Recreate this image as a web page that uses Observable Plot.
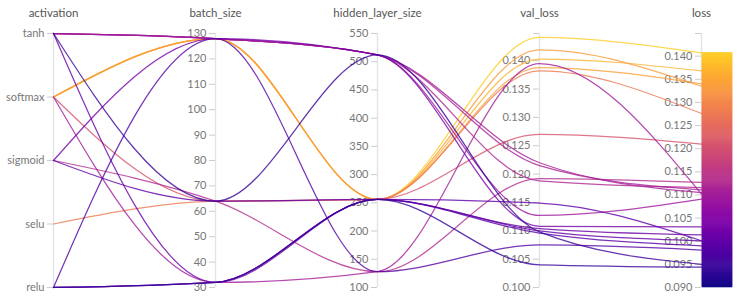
<!DOCTYPE html>
<html>
<head>
<meta charset="utf-8">
<script src="https://cdn.jsdelivr.net/npm/d3@7"></script>
<script src="https://cdn.jsdelivr.net/npm/@observablehq/plot@0.6"></script>
<style>
  html, body { margin: 0; padding: 0; background: #fff; }
  #chart svg { display: block; }
</style>
</head>
<body>
<div id="chart"></div>
<script>
// ---- data ----
const dims = ["activation", "batch_size", "hidden_layer_size", "val_loss", "loss"];
const activations = ["tanh", "softmax", "sigmoid", "selu", "relu"];

const runActivation = ["softmax","softmax","softmax","softmax","selu","softmax","sigmoid","tanh","tanh","tanh",
                       "softmax","tanh","sigmoid","tanh","sigmoid","relu","relu","relu","tanh","relu"];
const runBatch      = [128,128,128,128,64,64,64,128,128,128, 32,128,128,32,64,32,32,128,64,32];
const runHidden     = [256,256,256,256,256,256,128,512,512,512, 128,512,512,256,256,256,256,128,512,256];
const runValLoss    = [0.1441,0.1403,0.1388,0.1419,0.1382,0.1270,0.1192,0.1188,0.1215,0.1220,
                       0.1395,0.1127,0.1108,0.1104,0.1149,0.1100,0.1096,0.1075,0.1098,0.1040];
const runLoss       = [0.1407,0.1368,0.1340,0.1335,0.1276,0.1210,0.1127,0.1116,0.1111,0.1105,
                       0.1102,0.1091,0.1031,0.1014,0.1001,0.1001,0.0990,0.0981,0.0950,0.0944];

const batchTicks  = [30, 40, 50, 60, 70, 80, 90, 100, 110, 120, 130];
const hiddenTicks = [100, 150, 200, 250, 300, 350, 400, 450, 500, 550];
const valTicks    = [0.100, 0.105, 0.110, 0.115, 0.120, 0.125, 0.130, 0.135, 0.140];
const lossTicks   = [0.090, 0.095, 0.100, 0.105, 0.110, 0.115, 0.120, 0.125, 0.130, 0.135, 0.140];

const domains = {
  batch_size: [30, 130],
  hidden_layer_size: [100, 550],
  val_loss: [0.100, 0.1448],
  loss: [0.090, 0.1449]
};
const colorDomain = [0.090, d3.max(runLoss)];

// ---- layout helpers ----
const W = 737, H = 299, ML = 53, MR = 36;
const unitPx = (W - ML - MR) / (dims.length - 1); // px per axis step
const px = p => p / unitPx;                       // pixel offset -> x units

function norm(dim, v) {
  if (dim === "activation") return 1 - activations.indexOf(v) / (activations.length - 1);
  const [a, b] = domains[dim];
  return (v - a) / (b - a);
}

const points = [];
runLoss.forEach((l, i) => {
  const vals = [runActivation[i], runBatch[i], runHidden[i], runValLoss[i], runLoss[i]];
  dims.forEach((d, j) => points.push({run: i, xi: j, v: norm(d, vals[j]), loss: l}));
});

const ticks = [];
const addTicks = (dim, arr, fmt) => arr.forEach(t => ticks.push({xi: dims.indexOf(dim), v: norm(dim, t), label: fmt(t)}));
addTicks("activation", activations, a => a);
addTicks("batch_size", batchTicks, String);
addTicks("hidden_layer_size", hiddenTicks, String);
addTicks("val_loss", valTicks, t => t.toFixed(3));
addTicks("loss", lossTicks, t => t.toFixed(3));
ticks.push({xi: 3, v: 1, label: ""});
ticks.push({xi: 4, v: 1, label: ""});

// colour bar slices
const nBar = 240;
const bar = d3.range(0, nBar).map(k => {
  const a = colorDomain[0] + (colorDomain[1] - colorDomain[0]) * k / nBar;
  const b = colorDomain[0] + (colorDomain[1] - colorDomain[0]) * (k + 1) / nBar;
  return {y1: norm("loss", a), y2: norm("loss", b), loss: (a + b) / 2};
});

const chart = Plot.plot({
  width: W,
  height: H,
  marginLeft: ML,
  marginRight: MR,
  marginTop: 33,
  marginBottom: 12,
  x: {domain: [0, dims.length - 1], axis: null},
  y: {domain: [0, 1], axis: null},
  color: {type: "linear", domain: colorDomain, interpolate: t => d3.interpolatePlasma(t * 0.9)},
  style: {fontFamily: "Lato, 'Open Sans', sans-serif", fontSize: "11px", color: "#666", background: "#fff"},
  marks: [
    Plot.ruleX(d3.range(dims.length), {x: d => d, y1: 0, y2: 1, stroke: "#e4e4e4", strokeWidth: 1.5}),
    Plot.ruleY(ticks, {y: "v", x1: d => d.xi - px(6), x2: "xi", stroke: "#cccccc", strokeWidth: 1}),
    Plot.text(ticks, {x: "xi", y: "v", text: "label", textAnchor: "end", dx: -9, fill: "#777", fontSize: 11}),
    Plot.text(dims, {x: (d, i) => i, frameAnchor: "top", lineAnchor: "middle", dy: -20, text: d => d, fill: "#555", fontSize: 11.5}),
    Plot.line(points, {x: "xi", y: "v", z: "run", stroke: "loss", curve: "monotone-x", strokeWidth: 1.25, strokeOpacity: 0.8}),
    Plot.rect(bar, {x1: 4 + px(1), x2: 4 + px(31), y1: "y1", y2: "y2", fill: "loss", inset: -0.3})
  ]
});
document.getElementById("chart").appendChild(chart);
</script>
</body>
</html>
